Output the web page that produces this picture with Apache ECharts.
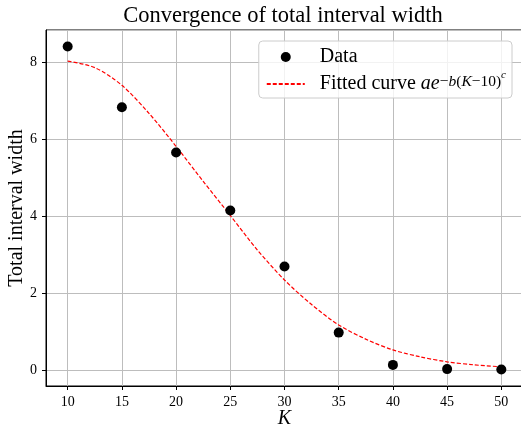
<!DOCTYPE html>
<html>
<head>
<meta charset="utf-8">
<script src="https://cdn.jsdelivr.net/npm/echarts@6/dist/echarts.min.js"></script>
<style>
  html, body { margin: 0; padding: 0; background: #fff; }
  #chart { width: 521px; height: 426px; }
</style>
</head>
<body>
<div id="chart"></div>
<script>
// measured points
const dataK = [10, 15, 20, 25, 30, 35, 40, 45, 50];
const dataWidth = [8.42, 6.84, 5.66, 4.15, 2.69, 0.97, 0.13, 0.02, 0.01];

// fitted curve
const curveK = [10, 12.5, 15, 17.5, 20, 22.5, 25, 27.5, 30, 32.5, 35, 37.5, 40, 42.5, 45, 47.5, 50];
const curveWidth = [8.04, 7.87, 7.41, 6.68, 5.82, 4.91, 4.02, 3.12, 2.34, 1.70, 1.17, 0.80, 0.52, 0.34, 0.21, 0.13, 0.08];

const serif = 'Liberation Serif';

let chartDom = document.getElementById('chart');
let myChart = echarts.init(chartDom);

let option = {
  animation: false,
  title: {
    text: 'Convergence of total interval width',
    left: 278,
    top: 0,
    textAlign: 'center',
    textStyle: { fontFamily: serif, fontSize: 22.5, fontWeight: 'normal', color: '#000' }
  },
  grid: {
    left: 46,
    top: 30,
    width: 477,
    height: 356,
    containLabel: false,
    outerBoundsMode: 'none',
    show: true,
    borderColor: '#000',
    borderWidth: 1
  },
  legend: {
    orient: 'vertical',
    right: 9,
    top: 41,
    padding: [6, 6, 4, 7],
    itemGap: 3,
    itemWidth: 38,
    itemHeight: 10,
    borderColor: '#cccccc',
    borderWidth: 1,
    borderRadius: 4,
    backgroundColor: 'rgba(255,255,255,0.8)',
    data: [
      { name: 'Data', icon: 'circle', itemStyle: { opacity: 1 } },
      { name: 'Fitted', itemStyle: { opacity: 0 } }
    ],
    formatter: function (name) {
      if (name === 'Data') return '{n|Data}';
      return '{n|Fitted curve }{i|ae}{s|−}{si|b}{s|(}{si|K}{s|−10)}{c|c}';
    },
    textStyle: {
      fontFamily: serif,
      fontSize: 20,
      color: '#000',
      rich: {
        n: { fontFamily: serif, fontSize: 20, padding: [0, 0, 0, 10], lineHeight: 20, verticalAlign: 'bottom' },
        i: { fontFamily: serif, fontSize: 20, fontStyle: 'italic', lineHeight: 20, verticalAlign: 'bottom' },
        s: { fontFamily: serif, fontSize: 15.5, lineHeight: 20, verticalAlign: 'top', padding: [0, 0, 0, 0] },
        si: { fontFamily: serif, fontSize: 15.5, fontStyle: 'italic', lineHeight: 20, verticalAlign: 'top', padding: [0, 0, 0, 0] },
        c: { fontFamily: serif, fontSize: 11, fontStyle: 'italic', lineHeight: 20, verticalAlign: 'top', padding: [-4, 0, 0, 0] }
      }
    }
  },
  xAxis: {
    type: 'value',
    min: 8,
    max: 52,
    splitNumber: 8,
    name: 'K',
    nameLocation: 'middle',
    nameGap: 23,
    nameMoveOverlap: false,
    nameTextStyle: { fontFamily: serif, fontSize: 20, fontStyle: 'italic', color: '#000' },
    axisLine: { show: true, onZero: false, lineStyle: { color: '#000', width: 1 } },
    axisTick: { show: true, length: 4, lineStyle: { color: '#000' } },
    axisLabel: {
      showMinLabel: false,
      showMaxLabel: false,
      margin: 9,
      fontFamily: serif,
      fontSize: 14,
      color: '#000'
    },
    splitLine: { show: true, lineStyle: { color: '#bdbdbd', width: 1 } }
  },
  yAxis: {
    type: 'value',
    min: -0.42,
    max: 8.85,
    splitNumber: 5,
    name: 'Total interval width',
    nameLocation: 'middle',
    nameGap: 19,
    nameMoveOverlap: false,
    nameTextStyle: { fontFamily: serif, fontSize: 20, color: '#000' },
    axisLine: { show: true, onZero: false, lineStyle: { color: '#000', width: 1 } },
    axisTick: { show: true, length: 4, lineStyle: { color: '#000' } },
    axisLabel: {
      showMinLabel: false,
      showMaxLabel: false,
      margin: 9,
      fontFamily: serif,
      fontSize: 14,
      color: '#000'
    },
    splitLine: { show: true, lineStyle: { color: '#bdbdbd', width: 1 } }
  },
  series: [
    {
      name: 'Fitted',
      type: 'line',
      data: curveK.map((k, i) => [k, curveWidth[i]]),
      smooth: 0.3,
      symbol: 'none',
      z: 2,
      lineStyle: { color: '#ff0000', width: 1.2, type: [4, 2] },
      itemStyle: { color: '#ff0000' }
    },
    {
      name: 'Data',
      type: 'scatter',
      data: dataK.map((k, i) => [k, dataWidth[i]]),
      symbol: 'circle',
      symbolSize: 10,
      z: 3,
      itemStyle: { color: '#000', opacity: 1 }
    }
  ]
};
myChart.setOption(option);
</script>
</body>
</html>
